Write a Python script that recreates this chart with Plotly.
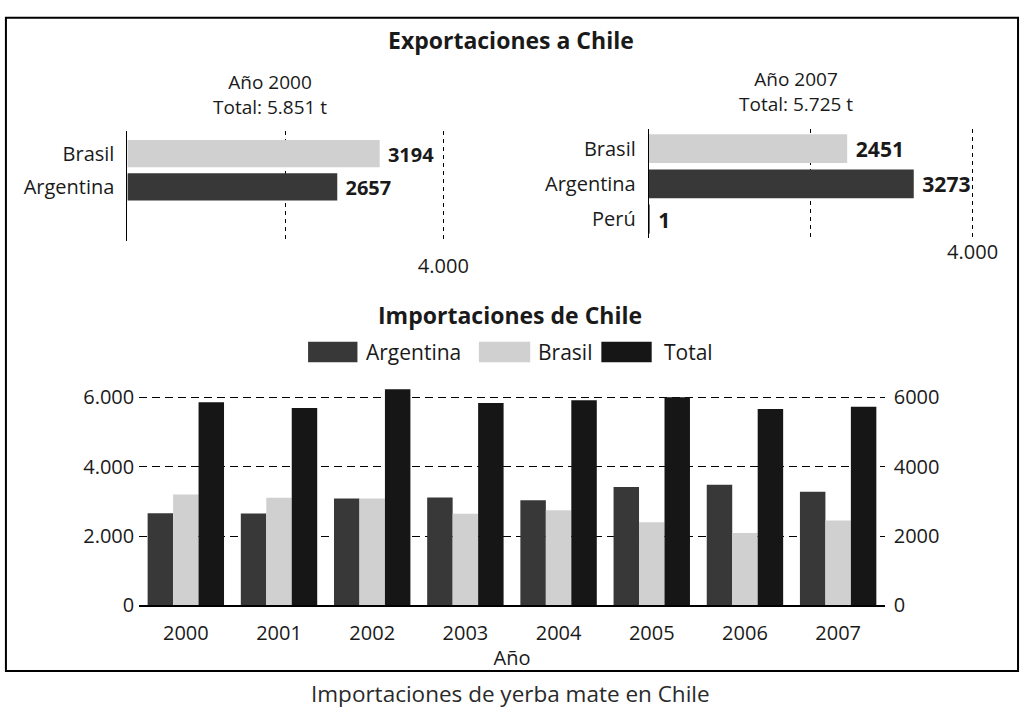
import plotly.graph_objects as go

# ---------------- data ----------------
exp_2000_countries = ["Brasil", "Argentina"]
exp_2000_values = [3194, 2657]
exp_2007_countries = ["Brasil", "Argentina", "Perú"]
exp_2007_values = [2451, 3273, 1]

years = ["2000", "2001", "2002", "2003", "2004", "2005", "2006", "2007"]
imp_argentina = [2657, 2650, 3080, 3110, 3030, 3410, 3475, 3273]
imp_brasil = [3194, 3100, 3080, 2640, 2740, 2400, 2090, 2451]
imp_total = [5851, 5690, 6225, 5830, 5910, 5995, 5660, 5725]

left_ticks = [0, 2000, 4000, 6000]
left_ticktext = ["0", "2.000", "4.000", "6.000"]
right_ticktext = ["0", "2000", "4000", "6000"]
exp_ticks = [2000, 4000]
exp_ticktext = ["", "4.000"]

# ---------------- style ----------------
W, H = 1034, 721
FONT = "Open Sans"
C_ARG = "#383838"
C_BRA = "#d0d0d0"
C_TOT = "#161616"
C_TEXT = "#1a1a1a"
EXP_MAX = 4000 * 1.04  # a little room so the 4.000 grid line is drawn


def fx(p):
    return p / W


def fy(p):
    return 1 - p / H


def thousands(v):
    return f"{v:,}".replace(",", ".")


fig = go.Figure()

# top-left: exports 2000
fig.add_trace(go.Bar(
    y=exp_2000_countries, x=exp_2000_values, orientation="h",
    marker=dict(color=[C_BRA, C_ARG], line=dict(width=0)),
    text=[f" <b>{v}</b>" for v in exp_2000_values], textposition="outside",
    textfont=dict(size=22, color=C_TEXT, family=FONT), cliponaxis=False,
    xaxis="x", yaxis="y", showlegend=False,
))
# top-right: exports 2007
fig.add_trace(go.Bar(
    y=exp_2007_countries, x=exp_2007_values, orientation="h",
    marker=dict(color=[C_BRA, C_ARG, C_ARG], line=dict(width=0)),
    text=[f" <b>{v}</b>" for v in exp_2007_values], textposition="outside",
    textfont=dict(size=22, color=C_TEXT, family=FONT), cliponaxis=False,
    xaxis="x2", yaxis="y2", showlegend=False,
))
# bottom: imports
for name, vals, col in [("Argentina", imp_argentina, C_ARG),
                        ("Brasil", imp_brasil, C_BRA),
                        ("Total", imp_total, C_TOT)]:
    fig.add_trace(go.Bar(
        x=years, y=vals, name=name, marker=dict(color=col, line=dict(width=0)),
        xaxis="x3", yaxis="y3", showlegend=False,
    ))
# invisible companion trace so the right-hand axis is drawn
fig.add_trace(go.Scatter(
    x=years, y=imp_total, mode="markers", marker=dict(opacity=0),
    xaxis="x3", yaxis="y4", showlegend=False, hoverinfo="skip",
))

dash_v = "4px,4px"
dash_h = "8px,5px"

fig.update_layout(
    width=W, height=H,
    margin=dict(l=0, r=0, t=0, b=0),
    paper_bgcolor="white", plot_bgcolor="rgba(0,0,0,0)",
    font=dict(family=FONT, size=20, color=C_TEXT),
    barmode="group", bargap=0.18, bargroupgap=0,
    xaxis=dict(domain=[fx(129), fx(129 + 320 * EXP_MAX / 4000)],
               range=[0, EXP_MAX], anchor="y",
               tickvals=exp_ticks, ticktext=exp_ticktext, showgrid=True,
               gridcolor="black", griddash=dash_v, gridwidth=1, zeroline=False,
               showline=False, ticks="", ticklabelstandoff=11,
               tickfont=dict(size=20)),
    yaxis=dict(domain=[fy(243), fy(130)], type="category",
               categoryorder="array", categoryarray=exp_2000_countries,
               range=[2.64, -0.68], anchor="x", showline=True,
               linecolor="black", linewidth=1, ticks="", showgrid=False,
               ticklabelstandoff=8, tickfont=dict(size=20)),
    xaxis2=dict(domain=[fx(657), fx(657 + 328 * EXP_MAX / 4000)],
                range=[0, EXP_MAX], anchor="y2",
                tickvals=exp_ticks, ticktext=exp_ticktext, showgrid=True,
                gridcolor="black", griddash=dash_v, gridwidth=1, zeroline=False,
                showline=False, ticks="", ticklabelstandoff=0,
                tickfont=dict(size=20)),
    yaxis2=dict(domain=[fy(240), fy(128)], type="category",
                categoryorder="array", categoryarray=exp_2007_countries,
                range=[2.55, -0.56], anchor="x2", showline=True,
                linecolor="black", linewidth=1, ticks="", showgrid=False,
                ticklabelstandoff=8, tickfont=dict(size=20)),
    xaxis3=dict(domain=[fx(141), fx(896)], anchor="y3", type="category",
                showline=True, linecolor="black", linewidth=2, ticks="",
                showgrid=False, tickfont=dict(size=20), ticklabelstandoff=9,
                title=dict(text="Año", font=dict(size=20), standoff=6)),
    yaxis3=dict(domain=[fy(616), fy(392)], anchor="x3", range=[0, 6300],
                tickvals=left_ticks, ticktext=left_ticktext, showgrid=True,
                gridcolor="black", griddash=dash_h, gridwidth=1, zeroline=False,
                ticks="", ticklabelstandoff=4, tickfont=dict(size=20)),
    yaxis4=dict(overlaying="y3", anchor="x3", side="right", range=[0, 6300],
                tickvals=left_ticks, ticktext=right_ticktext, showgrid=False,
                zeroline=False, ticks="", ticklabelstandoff=8,
                tickfont=dict(size=20)),
)

ann = []
ann.append(dict(x=fx(517), y=fy(37), text="<b>Exportaciones a Chile</b>",
                font=dict(size=23)))
ann.append(dict(x=fx(273), y=fy(92.5),
                text=f"Año 2000<br>Total: {thousands(sum(exp_2000_values))} t",
                font=dict(size=19)))
ann.append(dict(x=fx(806), y=fy(90),
                text=f"Año 2007<br>Total: {thousands(sum(exp_2007_values))} t",
                font=dict(size=19)))
ann.append(dict(x=fx(516), y=fy(318), text="<b>Importaciones de Chile</b>",
                font=dict(size=23)))
ann.append(dict(x=fx(517), y=fy(706),
                text="Importaciones de yerba mate en Chile",
                font=dict(size=22.5, color="#2a2a2a")))

shapes = []
legend_items = [("Argentina", C_ARG, 312, 362, 369),
                ("Brasil", C_BRA, 485, 537, 543),
                ("Total", C_TOT, 609, 660, 670)]
for name, col, x0, x1, tx in legend_items:
    shapes.append(dict(type="rect", xref="paper", yref="paper",
                       x0=fx(x0), x1=fx(x1), y0=fy(367), y1=fy(346),
                       fillcolor=col, line=dict(width=0)))
    ann.append(dict(x=fx(tx), y=fy(356), text=name, xanchor="left",
                    font=dict(size=21)))

# frame
shapes.append(dict(type="rect", xref="paper", yref="paper",
                   x0=fx(6), x1=fx(1031), y0=fy(683), y1=fy(14),
                   line=dict(color="black", width=2)))

for a in ann:
    a.setdefault("xref", "paper")
    a.setdefault("yref", "paper")
    a.setdefault("showarrow", False)
    a.setdefault("xanchor", "center")
    a.setdefault("yanchor", "middle")

fig.update_layout(annotations=ann, shapes=shapes)

fig.write_html(
    "out.html",
    config={"displayModeBar": False},
    post_script=(
        "document.documentElement.style.overflow='hidden';"
        "document.body.style.margin='0';"
        "document.body.style.overflow='hidden';"
        "var gd=document.getElementById('{plot_id}');"
        "gd.style.position='fixed';gd.style.left='0px';gd.style.top='0px';"
        "var w=document.documentElement.clientWidth||window.innerWidth;"
        "var h=document.documentElement.clientHeight||window.innerHeight;"
        "gd.style.width=w+'px';gd.style.height=h+'px';"
        "Plotly.relayout(gd,{width:w,height:h});"
    ),
)
